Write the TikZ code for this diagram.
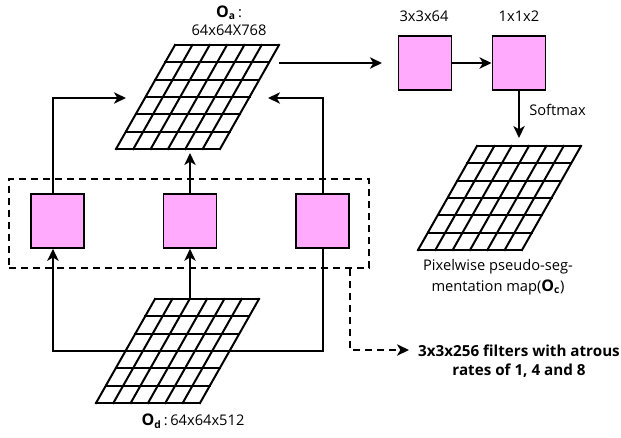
\documentclass[tikz,border=0pt]{standalone}
\usepackage{fontspec}
\setmainfont{Open Sans}
\usetikzlibrary{arrows.meta}
\definecolor{boxpink}{RGB}{255,170,252}
\tikzset{
  gridline/.style={line width=1.5pt, line cap=rect, line join=miter},
  conn/.style={line width=1.5pt, -{Stealth[length=9pt,width=8.5pt,inset=2.5pt]}},
  dconn/.style={line width=1.5pt, -{Stealth[length=9pt,width=8.5pt,inset=2.5pt]}, {Stealth[length=9pt,width=8.5pt,inset=2.5pt]}-},
  dashconn/.style={line width=1.4pt, dash pattern=on 5.5pt off 3.5pt, -{Stealth[length=9pt,width=8.5pt,inset=2.5pt]}},
  dashbox/.style={draw, line width=1.4pt, dash pattern=on 5.5pt off 3.5pt, minimum width=270pt, minimum height=66.75pt, inner sep=0pt},
  pinkbox/.style={draw, line width=1.2pt, fill=boxpink, minimum width=40pt, minimum height=40.5pt, inner sep=0pt},
  lbl/.style={font=\fontsize{11}{13.2}\selectfont, inner sep=0pt},
  fgrid/.pic={
    \foreach \i in {0,...,6} {
      \draw[gridline] ({-59*\i/6},{104*\i/6}) -- ({-59*\i/6+104},{104*\i/6});
      \draw[gridline] ({104*\i/6},0) -- ({104*\i/6-59},104);
    }
  }
}
\begin{document}
\begin{tikzpicture}[x={(0.75pt,0)}, y={(0,-0.75pt)}]
\useasboundingbox (0,0) rectangle (621,437);

% feature grids
\pic (ga) at (175,45) {fgrid};
\pic (gd) at (155,299) {fgrid};
\pic (gc) at (477,146) {fgrid};

% labels
\node[lbl, align=center] (la) at (229,21) {{\fontsize{12}{13.2}\selectfont\textbf{O}}\textsubscript{\textbf{a}}\,:\\[0.5pt]64x64X768};
\node[lbl] (ld) at (193,421) {{\fontsize{12}{13.2}\selectfont\textbf{O}}\textsubscript{\textbf{d}}\,:\,64x64x512};
\node[lbl, align=center] (lc) at (498,277) {Pixelwise pseudo-seg-\\[2.5pt]mentation map({\fontsize{12}{13.2}\selectfont\textbf{O}}\textsubscript{\textbf{c}})};
\node[lbl, align=center, font=\fontsize{11.4}{14.25}\selectfont\bfseries] (lf) at (519,361) {3x3x256 filters with atrous\\rates of 1, 4 and 8};

% atrous boxes
\node[dashbox] (grp) at (189,223.5) {};
\node[pinkbox] (b1) at (57.5,221) {};
\node[pinkbox] (b2) at (190,221) {};
\node[pinkbox] (b3) at (322.5,221) {};

% head boxes
\node[pinkbox] (c1) at (425,63) {};
\node[pinkbox] (c2) at (519,63) {};
\node[lbl] (lc1) at (424,16) {3x3x64};
\node[lbl] (lc2) at (519,16) {1x1x2};
\node[lbl, anchor=west] (lsm) at (529,110) {Softmax};

% coordinates on the grids
\coordinate (ainl) at (126,98);
\coordinate (ainr) at (268,98);
\coordinate (ainb) at (190,153);
\coordinate (aout) at (279,63);
\coordinate (ahead) at (382,63);
\coordinate (dtop) at (190,299);
\coordinate (dmid) at (190,351);
\coordinate (ctop) at (519,138);
\coordinate (ftip) at (409,350);

% connectors
\draw[conn] ([xshift=-3.4pt]b1.north) |- (ainl);
\draw[conn] (b3.north) |- (ainr);
\draw[conn] (b2.north) -- (ainb);
\draw[dconn] ([xshift=-3.4pt]b1.south) |- (dmid) -| (b3.south);
\draw[conn] (dtop) -- (b2.south);
\draw[conn] (aout) -- (ahead);
\draw[conn] (c1) -- (c2);
\draw[conn] (c2) -- (ctop);
\draw[dashconn] ([xshift=-15pt]grp.south east) |- (ftip);
\end{tikzpicture}
\end{document}
